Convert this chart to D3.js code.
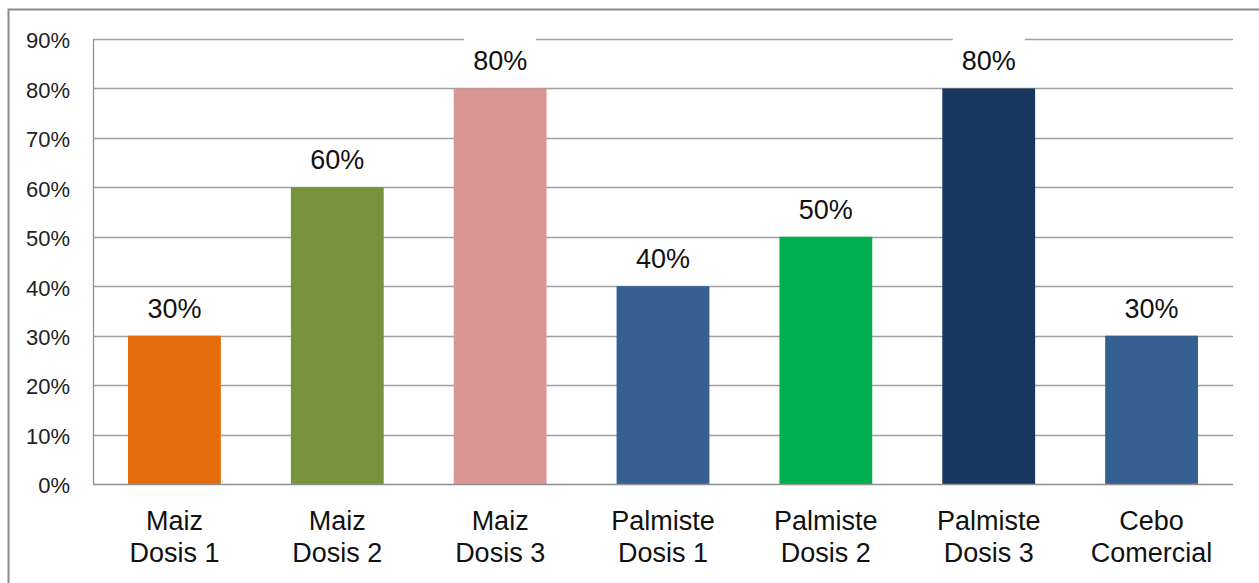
<!DOCTYPE html>
<html>
<head>
<meta charset="utf-8">
<script src="https://cdn.jsdelivr.net/npm/d3@7"></script>
<style>
  body { margin: 0; background: #fff; }
  svg { display: block; }
</style>
</head>
<body>
<div id="chart"></div>
<script>
const categories = [["Maiz", "Dosis 1"], ["Maiz", "Dosis 2"], ["Maiz", "Dosis 3"],
  ["Palmiste", "Dosis 1"], ["Palmiste", "Dosis 2"], ["Palmiste", "Dosis 3"], ["Cebo", "Comercial"]]
const values = [30, 60, 80, 40, 50, 80, 30]
const barColors = ["#E46C0A", "#77933C", "#D99694", "#376092", "#00B050", "#17375E", "#376092"]
const yTicks = [0, 10, 20, 30, 40, 50, 60, 70, 80, 90]

drawChart("#chart")

function drawChart(id){
    const canvas = createCanvas()
    const svg = d3.select(id).append("svg").attr("width", canvas.width).attr("height", canvas.height)

    // outer chart frame
    svg.append("rect").attr("x", 8.5).attr("y", 9.5).attr("width", 1270).attr("height", 620)
      .attr("fill", "#fff").attr("stroke", "#898989").attr("stroke-width", 2)

    const keys = categories.map(c => c.join(" "))
    const x = d3.scaleBand().domain(keys).range([canvas.left, canvas.right]).paddingInner(0.43).paddingOuter(0.215)
    const y = d3.scaleLinear().domain([0, 90]).range([canvas.bottom, canvas.top])

    // gridlines
    svg.append("g").selectAll("line").data(yTicks.filter(d => d > 0)).enter().append("line")
      .attr("x1", canvas.left).attr("x2", canvas.right)
      .attr("y1", d => Math.round(y(d)) + 0.5).attr("y2", d => Math.round(y(d)) + 0.5)
      .attr("stroke", "#a0a0a0").attr("stroke-width", 1.3)

    // y axis
    const yAxis = svg.append("g").attr("transform", `translate(${canvas.left},0)`)
      .call(d3.axisLeft(y).tickValues(yTicks).tickFormat(d => d + "%").tickSize(0).tickPadding(23))
    yAxis.select(".domain").attr("stroke", "#909090").attr("stroke-width", 1.3)
    yAxis.selectAll("text").attr("font-family", "'Liberation Sans', Arial, sans-serif")
      .attr("font-size", "22px").attr("fill", "#222").attr("dy", "0.4em")

    // bars
    svg.append("g").selectAll("rect").data(values).enter().append("rect")
      .attr("x", (d, i) => x(keys[i])).attr("width", x.bandwidth())
      .attr("y", d => y(d)).attr("height", d => y(0) - y(d))
      .attr("fill", (d, i) => barColors[i])

    // x axis baseline
    svg.append("line").attr("x1", canvas.left).attr("x2", canvas.right)
      .attr("y1", Math.round(y(0)) + 0.5).attr("y2", Math.round(y(0)) + 0.5)
      .attr("stroke", "#909090").attr("stroke-width", 1.3)

    // value labels (white box only where it reaches the top gridline)
    const labels = svg.append("g").selectAll("g").data(values).enter().append("g")
      .attr("transform", (d, i) => `translate(${x(keys[i]) + x.bandwidth() / 2},${y(d)})`)
    labels.filter(d => y(d) - 51 <= canvas.top).append("rect")
      .attr("x", -36).attr("y", -53).attr("width", 72).attr("height", 46).attr("fill", "#fff")
    labels.append("text").attr("y", -18).attr("text-anchor", "middle")
      .attr("font-family", "'Liberation Sans', Arial, sans-serif").attr("font-size", "27px").attr("fill", "#111")
      .text(d => d + "%")

    // category labels
    const cats = svg.append("g").selectAll("text").data(categories).enter().append("text")
      .attr("x", (d, i) => x(keys[i]) + x.bandwidth() / 2).attr("y", 530)
      .attr("text-anchor", "middle").attr("font-family", "'Liberation Sans', Arial, sans-serif")
      .attr("font-size", "27px").attr("fill", "#111")
    cats.append("tspan").attr("x", (d, i) => x(keys[i]) + x.bandwidth() / 2).text(d => d[0])
    cats.append("tspan").attr("x", (d, i) => x(keys[i]) + x.bandwidth() / 2).attr("dy", 32).text(d => d[1])
}

function createCanvas(){
    return { width: 1259, height: 583, left: 93, right: 1233, top: 39, bottom: 484 }
}
</script>
</body>
</html>
